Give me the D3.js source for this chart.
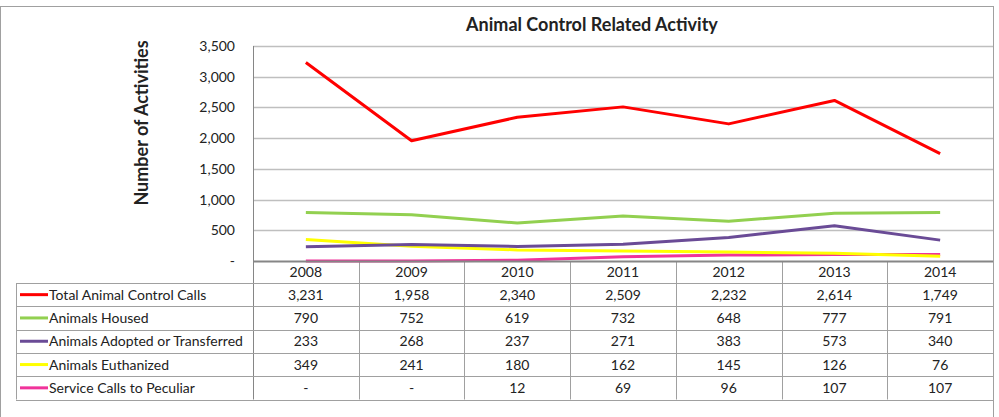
<!DOCTYPE html>
<meta charset="utf-8">
<script src="https://d3js.org/d3.v7.min.js"></script>
<style>
  body { margin: 0; background: #fff; }
  text { font-family: Lato, "Liberation Sans", sans-serif; fill: #222; }
</style>
<div id="chart"></div>
<script>
// data
var years = ["2008", "2009", "2010", "2011", "2012", "2013", "2014"];
var seriesNames = ["Total Animal Control Calls", "Animals Housed", "Animals Adopted or Transferred", "Animals Euthanized", "Service Calls to Peculiar"];
var seriesColors = ["#ff0000", "#92d050", "#6a4b96", "#ffff00", "#f0339a"];
var totalCalls = [3231, 1958, 2340, 2509, 2232, 2614, 1749];
var housed = [790, 752, 619, 732, 648, 777, 791];
var adopted = [233, 268, 237, 271, 383, 573, 340];
var euthanized = [349, 241, 180, 162, 145, 126, 76];
var peculiar = [null, null, 12, 69, 96, 107, 107];
var yTicks = [0, 500, 1000, 1500, 2000, 2500, 3000, 3500];

var series = [totalCalls, housed, adopted, euthanized, peculiar];

var W = 999, H = 417;
var plot = {left: 253, right: 993, top: 46, bottom: 261};
var rowH = 23.3, headH = 22, legLeft = 16;

var svg = d3.select("#chart").append("svg")
    .attr("width", W).attr("height", H);

// outer frame
svg.append("rect")
    .attr("x", 0.5).attr("y", 6.5)
    .attr("width", 993).attr("height", 420)
    .attr("fill", "none").attr("stroke", "#a0a0a0");

var x = d3.scaleBand().domain(years).range([plot.left, plot.right]);
var y = d3.scaleLinear().domain([0, 3500]).range([plot.bottom, plot.top]);
var fmt = d3.format(",");

// gridlines
svg.selectAll(".grid")
    .data(yTicks.slice(1))
    .enter().append("line")
    .attr("x1", plot.left).attr("x2", plot.right)
    .attr("y1", function(d) { return Math.round(y(d)) + 0.5; })
    .attr("y2", function(d) { return Math.round(y(d)) + 0.5; })
    .attr("stroke", "#bfbfbf").attr("stroke-width", 1.3);

// y axis
var yAxis = svg.append("g")
    .attr("transform", "translate(" + plot.left + ",0)")
    .call(d3.axisLeft(y).tickValues(yTicks).tickSize(0).tickPadding(18)
        .tickFormat(function(d) { return d === 0 ? "-" : fmt(d); }));
yAxis.select(".domain").attr("stroke", "#868686");
yAxis.selectAll("text").style("font-size", "14px").attr("fill", "#222")
    .style("font-family", "Lato, sans-serif");

// vertical plot frame on the left
svg.append("line").attr("x1", plot.left + 0.5).attr("x2", plot.left + 0.5)
    .attr("y1", plot.top).attr("y2", plot.bottom + headH + rowH * 5)
    .attr("stroke", "#868686");

// table
var tableTop = plot.bottom;
var tableBottom = plot.bottom + headH + rowH * 5;
var tbl = svg.append("g");

// column separators
tbl.selectAll(".col")
    .data(years.slice(1))
    .enter().append("line")
    .attr("x1", function(d) { return Math.round(x(d)) + 0.5; })
    .attr("x2", function(d) { return Math.round(x(d)) + 0.5; })
    .attr("y1", tableTop).attr("y2", tableBottom)
    .attr("stroke", "#a0a0a0");

// row lines
var rowLines = d3.range(6).map(function(i) { return tableTop + headH + i * rowH; });
tbl.selectAll(".row")
    .data(rowLines)
    .enter().append("line")
    .attr("x1", legLeft).attr("x2", plot.right)
    .attr("y1", function(d) { return Math.round(d) + 0.5; })
    .attr("y2", function(d) { return Math.round(d) + 0.5; })
    .attr("stroke", "#a0a0a0");
tbl.append("line").attr("x1", legLeft + 0.5).attr("x2", legLeft + 0.5)
    .attr("y1", tableTop + headH).attr("y2", tableBottom)
    .attr("stroke", "#a0a0a0");

// year header
tbl.selectAll(".yr")
    .data(years)
    .enter().append("text")
    .attr("x", function(d) { return x(d) + x.bandwidth() / 2; })
    .attr("y", tableTop + headH / 2 + 5)
    .attr("text-anchor", "middle")
    .style("font-size", "14px")
    .text(function(d) { return d; });

// legend keys and names
series.forEach(function(vals, i) {
    var cy = tableTop + headH + rowH * i + rowH / 2;
    tbl.append("line")
        .attr("x1", 20).attr("x2", 48)
        .attr("y1", cy).attr("y2", cy)
        .attr("stroke", seriesColors[i]).attr("stroke-width", 3);
    tbl.append("text")
        .attr("x", 49).attr("y", cy + 5)
        .style("font-size", "14px")
        .text(seriesNames[i]);
    tbl.selectAll(".v" + i)
        .data(vals)
        .enter().append("text")
        .attr("x", function(d, j) { return x(years[j]) + x.bandwidth() / 2; })
        .attr("y", cy + 5)
        .attr("text-anchor", "middle")
        .style("font-size", "14px")
        .text(function(d) { return d === null ? "-" : fmt(d); });
});

// lines (draw back-to-front so red on top)
var line = d3.line()
    .x(function(d, j) { return x(years[j]) + x.bandwidth() / 2; })
    .y(function(d) { return y(d === null ? 0 : d); });

[4, 3, 2, 1, 0].forEach(function(i) {
    svg.append("path")
        .datum(series[i])
        .attr("d", line)
        .attr("fill", "none")
        .attr("stroke", seriesColors[i])
        .attr("stroke-width", 3)
        .attr("stroke-linejoin", "round");
});

// baseline axis
svg.append("line").attr("x1", plot.left).attr("x2", plot.right)
    .attr("y1", plot.bottom + 0.5).attr("y2", plot.bottom + 0.5)
    .attr("stroke", "#868686").attr("stroke-width", 2);

// title
svg.append("text")
    .attr("x", 592).attr("y", 31)
    .attr("text-anchor", "middle")
    .style("font-size", "18px").style("font-weight", "bold")
    .text("Animal Control Related Activity");

svg.append("text")
    .attr("transform", "translate(148,123) rotate(-90)")
    .attr("text-anchor", "middle")
    .style("font-size", "18px").style("font-weight", "bold")
    .text("Number of Activities");
</script>
